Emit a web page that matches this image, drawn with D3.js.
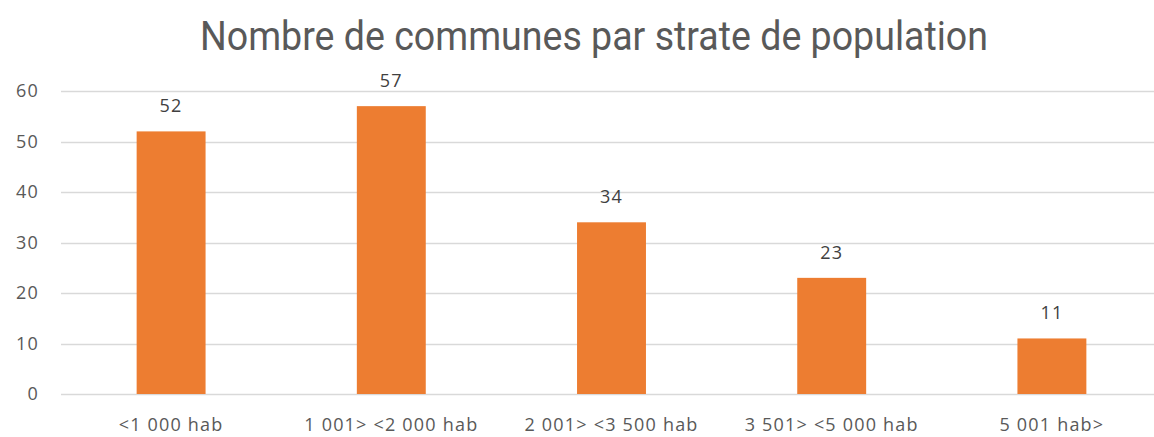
<!DOCTYPE html>
<html>
<head>
<meta charset="utf-8">
<script src="https://cdn.jsdelivr.net/npm/d3@7"></script>
<style>
  body { margin: 0; background: #fff; }
  svg { display: block; }
</style>
</head>
<body>
<div id="chart"></div>
<script>
var title = "Nombre de communes par strate de population";
var categories = ["<1 000 hab", "1 001> <2 000 hab", "2 001> <3 500 hab", "3 501> <5 000 hab", "5 001 hab>"];
var values = [52, 57, 34, 23, 11];
var yTicks = [0, 10, 20, 30, 40, 50, 60];

var width = 1154, height = 437;
var plot = { left: 61, right: 1162, top: 91, bottom: 394 };
var labelFont = "'Open Sans', sans-serif";

var svg = d3.select("#chart")
  .append("svg")
  .attr("width", width)
  .attr("height", height);

var y = d3.scaleLinear()
  .domain([0, 60])
  .range([plot.bottom, plot.top]);

var pad = 0.687;
var x = d3.scaleBand()
  .domain(categories)
  .range([plot.left, plot.right])
  .paddingInner(pad)
  .paddingOuter(pad / 2);

// gridlines
svg.append("g")
  .selectAll("line")
  .data(yTicks)
  .enter().append("line")
  .attr("x1", plot.left)
  .attr("x2", plot.right)
  .attr("y1", function(d) { return Math.round(y(d)) + 0.5; })
  .attr("y2", function(d) { return Math.round(y(d)) + 0.5; })
  .attr("stroke", "#d9d9d9")
  .attr("stroke-width", 1.5);

// y axis labels
var yAxis = d3.axisLeft(y).tickValues(yTicks).tickSize(0).tickPadding(0);
var gy = svg.append("g")
  .attr("transform", "translate(39,0)")
  .call(yAxis);
gy.select(".domain").remove();
gy.selectAll("text")
  .attr("font-family", labelFont)
  .attr("font-size", "18px")
  .attr("letter-spacing", "1.2px")
  .attr("fill", "#595959");

// bars
svg.append("g")
  .selectAll("rect")
  .data(values)
  .enter().append("rect")
  .attr("x", function(d, i) { return x(categories[i]); })
  .attr("y", function(d) { return y(d); })
  .attr("width", x.bandwidth())
  .attr("height", function(d) { return y(0) - y(d); })
  .attr("fill", "#ed7d31");

// data labels
svg.append("g")
  .selectAll("text")
  .data(values)
  .enter().append("text")
  .attr("x", function(d, i) { return x(categories[i]) + x.bandwidth() / 2; })
  .attr("y", function(d) { return y(d) - 19; })
  .attr("text-anchor", "middle")
  .attr("font-family", labelFont)
  .attr("font-size", "18px")
  .attr("letter-spacing", "1.2px")
  .attr("fill", "#404040")
  .text(function(d) { return d; });

// x axis labels
var xAxis = d3.axisBottom(x).tickSize(0).tickPadding(0);
var gx = svg.append("g")
  .attr("transform", "translate(0,418)")
  .call(xAxis);
gx.select(".domain").remove();
gx.selectAll("text")
  .attr("font-family", labelFont)
  .attr("font-size", "18px")
  .attr("letter-spacing", "1.2px")
  .attr("fill", "#595959");

// title
svg.append("text")
  .attr("x", 594)
  .attr("y", 50)
  .attr("text-anchor", "middle")
  .attr("font-family", "Roboto, sans-serif")
  .attr("font-size", "40px")
  .attr("textLength", 788)
  .attr("lengthAdjust", "spacingAndGlyphs")
  .attr("fill", "#595959")
  .text(title);
</script>
</body>
</html>
